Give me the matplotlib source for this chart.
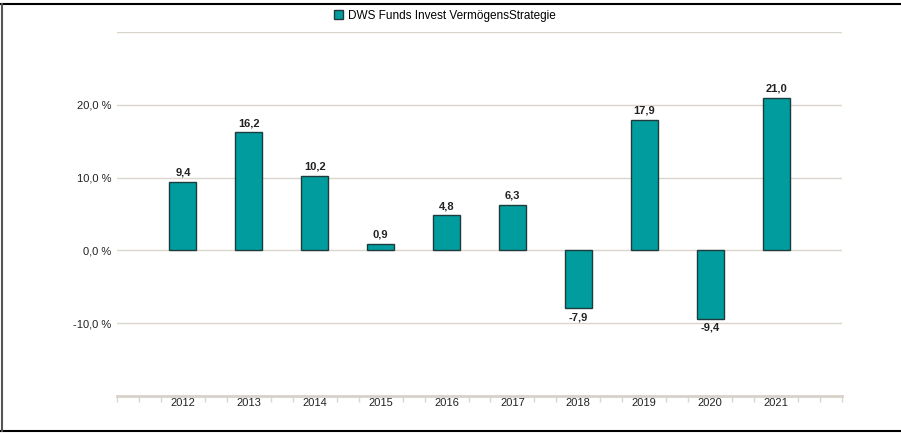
import matplotlib
matplotlib.use("Agg")
import matplotlib.pyplot as plt
from matplotlib.patches import Patch
from matplotlib.lines import Line2D

plt.rcParams['font.family'] = ['Liberation Sans', 'DejaVu Sans']

years = ['2012', '2013', '2014', '2015', '2016', '2017', '2018', '2019', '2020', '2021']
values = [9.4, 16.2, 10.2, 0.9, 4.8, 6.3, -7.9, 17.9, -9.4, 21.0]
series_name = 'DWS Funds Invest VermögensStrategie'
yticks = [-10, 0, 10, 20]

bar_color = '#009C9E'
edge_color = '#1E3C3C'
grid_color = '#DAD6CE'

fig = plt.figure(figsize=(9.01, 4.33), dpi=100)
ax = fig.add_axes([117/901, 1 - 396/433, (842 - 117)/901, (396 - 32)/433])

x = list(range(len(years)))
ax.bar(x, values, width=0.41, color=bar_color, edgecolor=edge_color, linewidth=1.0, zorder=3)

for xi, v in zip(x, values):
    lbl = f'{v:.1f}'.replace('.', ',')
    if v >= 0:
        ax.annotate(lbl, (xi, v), xytext=(0, 3), textcoords='offset points',
                    ha='center', va='bottom', fontsize=8, fontweight='bold', color='#222222')
    else:
        ax.annotate(lbl, (xi, v), xytext=(0, -3), textcoords='offset points',
                    ha='center', va='top', fontsize=8, fontweight='bold', color='#222222')

ax.set_xlim(-1, len(years))
ax.set_ylim(-20, 30)

for g in [-10, 0, 10, 20, 30]:
    ax.axhline(g, color=grid_color, linewidth=1.0, zorder=1)

ax.set_yticks(yticks)
ax.set_yticklabels([f'{t:.1f} %'.replace('.', ',') for t in yticks], fontsize=8, color='#222222')
ax.tick_params(axis='y', length=0, pad=4)

ax.set_xticks(x)
ax.set_xticklabels(years, fontsize=8, color='#222222')
ax.tick_params(axis='x', length=0, pad=1.5)

minor = []
for i in range(-1, len(years) + 1):
    for d in (-1/3, 0, 1/3):
        p = i + d
        if -1 <= p <= len(years) and not (0 <= i < len(years) and d == 0):
            minor.append(p)
ax.set_xticks(minor, minor=True)
ax.tick_params(axis='x', which='minor', length=4, width=1, color=grid_color, direction='out')

for s in ['top', 'right', 'left']:
    ax.spines[s].set_visible(False)
ax.spines['bottom'].set_color('#D6D2CA')
ax.spines['bottom'].set_linewidth(2.0)

handles = [Patch(facecolor=bar_color, edgecolor=edge_color, linewidth=1.0, label=series_name)]
fig.legend(handles=handles, loc='center', bbox_to_anchor=(445/901, 1 - 16/433), frameon=False,
           fontsize=8.5, handlelength=0.8, handleheight=0.8, handletextpad=0.4)

# outer border
fig.add_artist(Line2D([0, 1], [1 - 4/433, 1 - 4/433], transform=fig.transFigure, color='black', linewidth=1.5))
fig.add_artist(Line2D([0, 1], [1 - 431/433, 1 - 431/433], transform=fig.transFigure, color='black', linewidth=1.5))
fig.add_artist(Line2D([1.5/901, 1.5/901], [1 - 431/433, 1 - 4/433], transform=fig.transFigure, color='#555555', linewidth=1.5))

fig.savefig('out.png', dpi=100)
